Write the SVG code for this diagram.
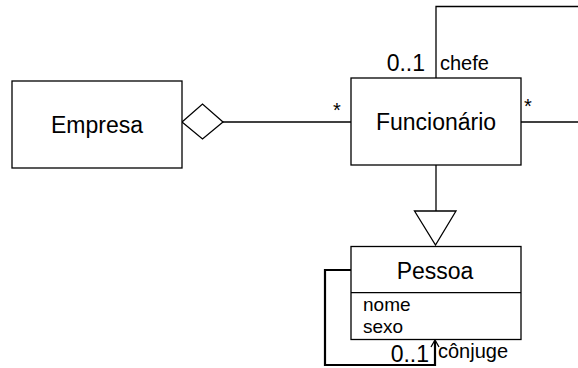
<svg xmlns="http://www.w3.org/2000/svg" width="578" height="368" viewBox="0 0 578 368">
<style>
.box{fill:#fff;stroke:#000;stroke-width:1.3}
.ln{fill:none;stroke:#000;stroke-width:1.3}
.thick{fill:none;stroke:#000;stroke-width:2.2}
.t{font-family:"Liberation Sans",Arial,sans-serif;fill:#000}
.big{font-size:23px}
.mid{font-size:20px}
.sm{font-size:19px}
</style>
<rect width="578" height="368" fill="#fff"/>
<g id="connectors">
  <polyline class="ln" points="436,78 436,6.5 578,6.5"/>
  <line class="ln" x1="521" y1="122" x2="578" y2="122"/>
  <line class="ln" x1="223" y1="122" x2="351" y2="122"/>
  <polygon class="box" points="182,122 202.5,104 223,122 202.5,139"/>
  <line class="ln" x1="436" y1="165" x2="436" y2="211"/>
  <polygon class="box" points="414.5,211 456,211 435.5,245"/>
  <polyline class="thick" points="351,270 325,270 325,365 435,365 435,341"/>
  <polyline class="ln" points="431,347 435,340 439,347"/>
  <text class="t mid" x="337" y="117" text-anchor="middle">*</text>
  <text class="t mid" x="528" y="113" text-anchor="middle">*</text>
  <text class="t big" x="425" y="71" text-anchor="end">0..1</text>
  <text class="t mid" x="440" y="70">chefe</text>
  <text class="t big" x="429" y="362" text-anchor="end">0..1</text>
  <text class="t mid" x="438" y="358">cônjuge</text>
</g>
<g id="empresa">
  <rect class="box" x="12" y="81" width="170" height="87"/>
  <text class="t big" x="97" y="133" text-anchor="middle">Empresa</text>
</g>
<g id="funcionario">
  <rect class="box" x="351" y="78" width="170" height="87"/>
  <text class="t big" x="436" y="130" text-anchor="middle">Funcionário</text>
</g>
<g id="pessoa">
  <rect class="box" x="351" y="246.5" width="170" height="93"/>
  <line class="ln" x1="351" y1="292.7" x2="521" y2="292.7"/>
  <text class="t big" x="435" y="279" text-anchor="middle">Pessoa</text>
  <text class="t sm" x="363" y="311">nome</text>
  <text class="t sm" x="363" y="332.5">sexo</text>
</g>
</svg>
